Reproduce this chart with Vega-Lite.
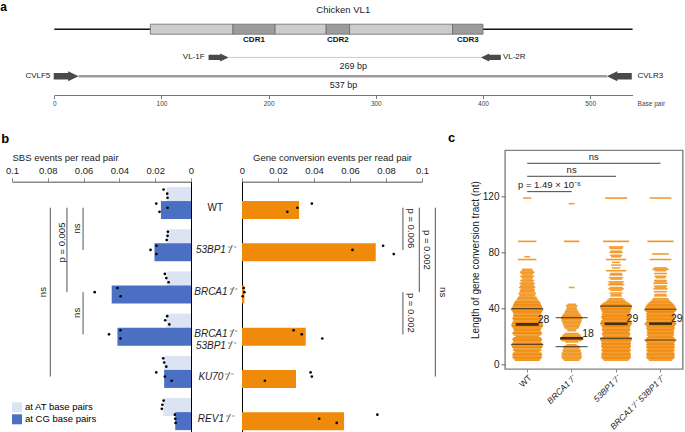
{
  "$schema": "https://vega.github.io/schema/vega-lite/v6.json",
  "padding": 0,
  "background": "white",
  "config": {
    "font": "Liberation Sans",
    "view": {"stroke": null},
    "axis": {"grid": false, "labelFont": "Liberation Sans", "titleFont": "Liberation Sans", "titleFontWeight": "normal", "labelColor": "#222", "titleColor": "#222"},
    "title": {"font": "Liberation Sans", "color": "#000"},
    "text": {"font": "Liberation Sans", "color": "#222"}
  },
  "datasets": {
    "segs": [
      {"s": 89.6, "e": 166.7, "k": "FR", "lane": "gene"},
      {"s": 166.7, "e": 206, "k": "CDR", "lane": "gene"},
      {"s": 206, "e": 253.7, "k": "FR", "lane": "gene"},
      {"s": 253.7, "e": 275.5, "k": "CDR", "lane": "gene"},
      {"s": 275.5, "e": 371.6, "k": "FR", "lane": "gene"},
      {"s": 371.6, "e": 400, "k": "CDR", "lane": "gene"}
    ],
    "cdr": [
      {"lab": "CDR1", "x": 186.3, "lane": "gene"},
      {"lab": "CDR2", "x": 264.6, "lane": "gene"},
      {"lab": "CDR3", "x": 385.8, "lane": "gene"}
    ],
    "amp": [
      {"lane": "VL", "s": 162.6, "e": 398, "lab": "269 bp", "mid": 279},
      {"lane": "CVL", "s": 22.7, "e": 515.6, "lab": "537 bp", "mid": 269.8}
    ],
    "primers": [
      {"name": "VL-1F", "lane": "VL", "s": 144, "e": 162.6, "dir": "F"},
      {"name": "VL-2R", "lane": "VL", "s": 398, "e": 413.9, "dir": "R"},
      {"name": "CVLF5", "lane": "CVL", "s": 0, "e": 22.7, "dir": "F"},
      {"name": "CVLR3", "lane": "CVL", "s": 515.6, "e": 539.5, "dir": "R"}
    ],
    "sbs": [
      {"g": "WT", "t": "AT", "v": 0.0136}, {"g": "WT", "t": "CG", "v": 0.0168},
      {"g": "53BP1", "t": "AT", "v": 0.0136}, {"g": "53BP1", "t": "CG", "v": 0.0204},
      {"g": "BRCA1", "t": "AT", "v": 0.0136}, {"g": "BRCA1", "t": "CG", "v": 0.0443},
      {"g": "DKO", "t": "AT", "v": 0.0136}, {"g": "DKO", "t": "CG", "v": 0.0411},
      {"g": "KU70", "t": "AT", "v": 0.015}, {"g": "KU70", "t": "CG", "v": 0.015},
      {"g": "REV1", "t": "AT", "v": 0.0155}, {"g": "REV1", "t": "CG", "v": 0.0088}
    ],
    "sbsdots": [
      {"g": "WT", "t": "AT", "r": 1, "v": 0.0153}, {"g": "WT", "t": "AT", "r": 2, "v": 0.0133}, {"g": "WT", "t": "AT", "r": 3, "v": 0.0131},
      {"g": "WT", "t": "CG", "r": 1, "v": 0.0194}, {"g": "WT", "t": "CG", "r": 2, "v": 0.0131}, {"g": "WT", "t": "CG", "r": 3, "v": 0.0176},
      {"g": "53BP1", "t": "AT", "r": 1, "v": 0.0129}, {"g": "53BP1", "t": "AT", "r": 2, "v": 0.0131}, {"g": "53BP1", "t": "AT", "r": 3, "v": 0.0136},
      {"g": "53BP1", "t": "CG", "r": 1, "v": 0.0193}, {"g": "53BP1", "t": "CG", "r": 2, "v": 0.0226}, {"g": "53BP1", "t": "CG", "r": 3, "v": 0.0193},
      {"g": "BRCA1", "t": "AT", "r": 1, "v": 0.0146}, {"g": "BRCA1", "t": "AT", "r": 2, "v": 0.0138}, {"g": "BRCA1", "t": "AT", "r": 3, "v": 0.0125},
      {"g": "BRCA1", "t": "CG", "r": 1, "v": 0.0411}, {"g": "BRCA1", "t": "CG", "r": 2, "v": 0.0538}, {"g": "BRCA1", "t": "CG", "r": 3, "v": 0.0393},
      {"g": "DKO", "t": "AT", "r": 1, "v": 0.0133}, {"g": "DKO", "t": "AT", "r": 2, "v": 0.0144}, {"g": "DKO", "t": "AT", "r": 3, "v": 0.0121},
      {"g": "DKO", "t": "CG", "r": 1, "v": 0.0394}, {"g": "DKO", "t": "CG", "r": 2, "v": 0.0458}, {"g": "DKO", "t": "CG", "r": 3, "v": 0.0394},
      {"g": "KU70", "t": "AT", "r": 1, "v": 0.0155}, {"g": "KU70", "t": "AT", "r": 2, "v": 0.015}, {"g": "KU70", "t": "AT", "r": 3, "v": 0.0138},
      {"g": "KU70", "t": "CG", "r": 1, "v": 0.0194}, {"g": "KU70", "t": "CG", "r": 2, "v": 0.0146}, {"g": "KU70", "t": "CG", "r": 3, "v": 0.0108},
      {"g": "REV1", "t": "AT", "r": 1, "v": 0.0153}, {"g": "REV1", "t": "AT", "r": 2, "v": 0.016}, {"g": "REV1", "t": "AT", "r": 3, "v": 0.0163},
      {"g": "REV1", "t": "CG", "r": 1, "v": 0.009}, {"g": "REV1", "t": "CG", "r": 2, "v": 0.0088}, {"g": "REV1", "t": "CG", "r": 3, "v": 0.0086}
    ],
    "sbssig": [
      {"v": 0.0786, "a": "WT|CG", "b": "KU70|CG"},
      {"v": 0.0693, "a": "WT|CG", "b": "BRCA1|CG"},
      {"v": 0.0603, "a": "WT|CG", "b": "53BP1|CG"},
      {"v": 0.0603, "a": "BRCA1|CG", "b": "DKO|CG"}
    ],
    "sbslab": [
      {"v": 0.0825, "row": "BRCA1|CG", "lab": "ns", "half": false},
      {"v": 0.0721, "row": "53BP1|AT", "lab": "p = 0.005", "half": true},
      {"v": 0.0635, "row": "WT|_", "lab": "ns", "half": true},
      {"v": 0.0635, "row": "BRCA1|_", "lab": "ns", "half": true}
    ],
    "gc": [
      {"g": "WT", "t": "CG", "v": 0.0317}, {"g": "53BP1", "t": "CG", "v": 0.0743},
      {"g": "BRCA1", "t": "CG", "v": 0.0013}, {"g": "DKO", "t": "CG", "v": 0.0354},
      {"g": "KU70", "t": "CG", "v": 0.030}, {"g": "REV1", "t": "CG", "v": 0.0567}
    ],
    "gcdots": [
      {"g": "WT", "t": "CG", "r": 1, "v": 0.0388}, {"g": "WT", "t": "CG", "r": 2, "v": 0.0308}, {"g": "WT", "t": "CG", "r": 3, "v": 0.0252},
      {"g": "53BP1", "t": "CG", "r": 1, "v": 0.0784}, {"g": "53BP1", "t": "CG", "r": 2, "v": 0.0614}, {"g": "53BP1", "t": "CG", "r": 3, "v": 0.0843},
      {"g": "BRCA1", "t": "CG", "r": 1, "v": 0.0009}, {"g": "BRCA1", "t": "CG", "r": 2, "v": 0.0013}, {"g": "BRCA1", "t": "CG", "r": 3, "v": 0.0004},
      {"g": "DKO", "t": "CG", "r": 1, "v": 0.0287}, {"g": "DKO", "t": "CG", "r": 2, "v": 0.0332}, {"g": "DKO", "t": "CG", "r": 3, "v": 0.0446},
      {"g": "KU70", "t": "CG", "r": 1, "v": 0.0381}, {"g": "KU70", "t": "CG", "r": 2, "v": 0.0388}, {"g": "KU70", "t": "CG", "r": 3, "v": 0.0127},
      {"g": "REV1", "t": "CG", "r": 1, "v": 0.0752}, {"g": "REV1", "t": "CG", "r": 2, "v": 0.0429}, {"g": "REV1", "t": "CG", "r": 3, "v": 0.0526}
    ],
    "gcsig": [
      {"v": 0.0894, "a": "WT|CG", "b": "53BP1|CG"},
      {"v": 0.0985, "a": "WT|CG", "b": "BRCA1|CG"},
      {"v": 0.0894, "a": "BRCA1|CG", "b": "DKO|CG"},
      {"v": 0.1074, "a": "WT|CG", "b": "KU70|CG"}
    ],
    "gclab": [
      {"v": 0.0939, "row": "WT|_", "lab": "p = 0.006", "half": true},
      {"v": 0.1028, "row": "53BP1|CG", "lab": "p = 0.002", "half": false},
      {"v": 0.0939, "row": "BRCA1|_", "lab": "p = 0.002", "half": true},
      {"v": 0.1117, "row": "BRCA1|CG", "lab": "ns", "half": false}
    ],
    "geno": [
      {"g": "WT", "t": "CG", "lab": "WT"},
      {"g": "53BP1", "t": "CG", "lab": "53BP1⁻/⁻"},
      {"g": "BRCA1", "t": "CG", "lab": "BRCA1⁻/⁻"},
      {"g": "DKO", "t": "CG", "lab": "BRCA1⁻/⁻\n53BP1⁻/⁻"},
      {"g": "KU70", "t": "CG", "lab": "KU70⁻/⁻"},
      {"g": "REV1", "t": "CG", "lab": "REV1⁻/⁻"}
    ],
    "crows": [
      {"g":"WT","v":119,"n":2},{"g":"WT","v":88,"n":10},{"g":"WT","v":77,"n":1},{"g":"WT","v":75,"n":10},{"g":"WT","v":68,"n":3},{"g":"WT","v":67,"n":4},{"g":"WT","v":66,"n":6},{"g":"WT","v":65,"n":5},{"g":"WT","v":64,"n":3},{"g":"WT","v":63,"n":6},{"g":"WT","v":62,"n":4},{"g":"WT","v":61,"n":3},{"g":"WT","v":60,"n":6},{"g":"WT","v":59,"n":4},{"g":"WT","v":58,"n":7},{"g":"WT","v":57,"n":5},{"g":"WT","v":56,"n":6},{"g":"WT","v":55,"n":8},{"g":"WT","v":54,"n":5},{"g":"WT","v":53,"n":7},{"g":"WT","v":52,"n":6},{"g":"WT","v":51,"n":9},{"g":"WT","v":50,"n":8},{"g":"WT","v":49,"n":7},{"g":"WT","v":48,"n":10},{"g":"WT","v":47,"n":12},{"g":"WT","v":46,"n":14},{"g":"WT","v":45,"n":18},{"g":"WT","v":44,"n":20},{"g":"WT","v":43,"n":22},{"g":"WT","v":42,"n":24},{"g":"WT","v":41,"n":26},{"g":"WT","v":40,"n":28},{"g":"WT","v":39,"n":30},{"g":"WT","v":38,"n":26},{"g":"WT","v":37,"n":24},{"g":"WT","v":36,"n":22},{"g":"WT","v":35,"n":24},{"g":"WT","v":34,"n":22},{"g":"WT","v":33,"n":26},{"g":"WT","v":32,"n":24},{"g":"WT","v":31,"n":22},{"g":"WT","v":30,"n":26},{"g":"WT","v":29,"n":28},{"g":"WT","v":28,"n":30},{"g":"WT","v":27,"n":28},{"g":"WT","v":26,"n":24},{"g":"WT","v":25,"n":22},{"g":"WT","v":24,"n":20},{"g":"WT","v":23,"n":24},{"g":"WT","v":22,"n":26},{"g":"WT","v":21,"n":22},{"g":"WT","v":20,"n":16},{"g":"WT","v":19,"n":22},{"g":"WT","v":18,"n":26},{"g":"WT","v":17,"n":24},{"g":"WT","v":16,"n":22},{"g":"WT","v":15,"n":26},{"g":"WT","v":14,"n":30},{"g":"WT","v":13,"n":28},{"g":"WT","v":12,"n":26},{"g":"WT","v":11,"n":22},{"g":"WT","v":10,"n":24},{"g":"WT","v":9,"n":18},{"g":"WT","v":8,"n":24},{"g":"WT","v":7,"n":26},{"g":"WT","v":6,"n":24},{"g":"WT","v":5,"n":26},{"g":"WT","v":4,"n":22},{"g":"WT","v":3,"n":18},
      {"g":"BRCA1","v":115,"n":1},{"g":"BRCA1","v":88,"n":7},{"g":"BRCA1","v":55,"n":1},{"g":"BRCA1","v":43,"n":2},{"g":"BRCA1","v":42,"n":4},{"g":"BRCA1","v":41,"n":3},{"g":"BRCA1","v":40,"n":3},{"g":"BRCA1","v":39,"n":4},{"g":"BRCA1","v":38,"n":5},{"g":"BRCA1","v":37,"n":6},{"g":"BRCA1","v":36,"n":8},{"g":"BRCA1","v":35,"n":10},{"g":"BRCA1","v":34,"n":12},{"g":"BRCA1","v":33,"n":14},{"g":"BRCA1","v":32,"n":12},{"g":"BRCA1","v":31,"n":12},{"g":"BRCA1","v":30,"n":10},{"g":"BRCA1","v":29,"n":9},{"g":"BRCA1","v":28,"n":8},{"g":"BRCA1","v":27,"n":7},{"g":"BRCA1","v":26,"n":6},{"g":"BRCA1","v":25,"n":3},{"g":"BRCA1","v":24,"n":2},{"g":"BRCA1","v":22,"n":6},{"g":"BRCA1","v":21,"n":9},{"g":"BRCA1","v":20,"n":11},{"g":"BRCA1","v":19,"n":14},{"g":"BRCA1","v":18,"n":16},{"g":"BRCA1","v":17,"n":12},{"g":"BRCA1","v":16,"n":5},{"g":"BRCA1","v":14,"n":3},{"g":"BRCA1","v":13,"n":6},{"g":"BRCA1","v":12,"n":9},{"g":"BRCA1","v":11,"n":7},{"g":"BRCA1","v":10,"n":10},{"g":"BRCA1","v":9,"n":9},{"g":"BRCA1","v":8,"n":12},{"g":"BRCA1","v":7,"n":11},{"g":"BRCA1","v":6,"n":12},{"g":"BRCA1","v":5,"n":12},{"g":"BRCA1","v":4,"n":10},{"g":"BRCA1","v":3,"n":7},
      {"g":"53BP1","v":119,"n":14},{"g":"53BP1","v":88,"n":20},{"g":"53BP1","v":84,"n":6},{"g":"53BP1","v":83,"n":5},{"g":"53BP1","v":81,"n":4},{"g":"53BP1","v":80,"n":5},{"g":"53BP1","v":78,"n":4},{"g":"53BP1","v":77,"n":3},{"g":"53BP1","v":75,"n":12},{"g":"53BP1","v":73,"n":2},{"g":"53BP1","v":71,"n":3},{"g":"53BP1","v":69,"n":2},{"g":"53BP1","v":67,"n":12},{"g":"53BP1","v":65,"n":4},{"g":"53BP1","v":64,"n":5},{"g":"53BP1","v":62,"n":6},{"g":"53BP1","v":61,"n":4},{"g":"53BP1","v":59,"n":7},{"g":"53BP1","v":58,"n":5},{"g":"53BP1","v":57,"n":8},{"g":"53BP1","v":55,"n":5},{"g":"53BP1","v":54,"n":7},{"g":"53BP1","v":53,"n":4},{"g":"53BP1","v":51,"n":5},{"g":"53BP1","v":50,"n":3},{"g":"53BP1","v":49,"n":4},{"g":"53BP1","v":47,"n":6},{"g":"53BP1","v":46,"n":9},{"g":"53BP1","v":45,"n":12},{"g":"53BP1","v":44,"n":18},{"g":"53BP1","v":43,"n":24},{"g":"53BP1","v":42,"n":28},{"g":"53BP1","v":41,"n":30},{"g":"53BP1","v":40,"n":28},{"g":"53BP1","v":39,"n":26},{"g":"53BP1","v":38,"n":24},{"g":"53BP1","v":37,"n":22},{"g":"53BP1","v":36,"n":24},{"g":"53BP1","v":35,"n":22},{"g":"53BP1","v":34,"n":26},{"g":"53BP1","v":33,"n":24},{"g":"53BP1","v":32,"n":22},{"g":"53BP1","v":31,"n":26},{"g":"53BP1","v":30,"n":28},{"g":"53BP1","v":29,"n":30},{"g":"53BP1","v":28,"n":26},{"g":"53BP1","v":27,"n":24},{"g":"53BP1","v":26,"n":22},{"g":"53BP1","v":25,"n":24},{"g":"53BP1","v":24,"n":22},{"g":"53BP1","v":23,"n":20},{"g":"53BP1","v":22,"n":24},{"g":"53BP1","v":21,"n":22},{"g":"53BP1","v":20,"n":20},{"g":"53BP1","v":19,"n":26},{"g":"53BP1","v":18,"n":30},{"g":"53BP1","v":17,"n":28},{"g":"53BP1","v":16,"n":24},{"g":"53BP1","v":15,"n":26},{"g":"53BP1","v":14,"n":24},{"g":"53BP1","v":13,"n":26},{"g":"53BP1","v":12,"n":24},{"g":"53BP1","v":11,"n":22},{"g":"53BP1","v":10,"n":26},{"g":"53BP1","v":9,"n":22},{"g":"53BP1","v":8,"n":24},{"g":"53BP1","v":7,"n":26},{"g":"53BP1","v":6,"n":24},{"g":"53BP1","v":5,"n":26},{"g":"53BP1","v":4,"n":22},{"g":"53BP1","v":3,"n":18},
      {"g":"DKO","v":119,"n":14},{"g":"DKO","v":88,"n":20},{"g":"DKO","v":79,"n":8},{"g":"DKO","v":75,"n":14},{"g":"DKO","v":69,"n":5},{"g":"DKO","v":68,"n":8},{"g":"DKO","v":67,"n":4},{"g":"DKO","v":65,"n":5},{"g":"DKO","v":63,"n":4},{"g":"DKO","v":62,"n":3},{"g":"DKO","v":60,"n":5},{"g":"DKO","v":59,"n":4},{"g":"DKO","v":58,"n":6},{"g":"DKO","v":56,"n":5},{"g":"DKO","v":55,"n":4},{"g":"DKO","v":54,"n":6},{"g":"DKO","v":52,"n":5},{"g":"DKO","v":50,"n":4},{"g":"DKO","v":49,"n":5},{"g":"DKO","v":47,"n":7},{"g":"DKO","v":46,"n":9},{"g":"DKO","v":45,"n":12},{"g":"DKO","v":44,"n":16},{"g":"DKO","v":43,"n":20},{"g":"DKO","v":42,"n":24},{"g":"DKO","v":41,"n":26},{"g":"DKO","v":40,"n":28},{"g":"DKO","v":39,"n":30},{"g":"DKO","v":38,"n":26},{"g":"DKO","v":37,"n":22},{"g":"DKO","v":36,"n":24},{"g":"DKO","v":35,"n":22},{"g":"DKO","v":34,"n":24},{"g":"DKO","v":33,"n":22},{"g":"DKO","v":32,"n":24},{"g":"DKO","v":31,"n":22},{"g":"DKO","v":30,"n":26},{"g":"DKO","v":29,"n":30},{"g":"DKO","v":28,"n":26},{"g":"DKO","v":27,"n":22},{"g":"DKO","v":26,"n":24},{"g":"DKO","v":25,"n":22},{"g":"DKO","v":24,"n":20},{"g":"DKO","v":23,"n":22},{"g":"DKO","v":22,"n":20},{"g":"DKO","v":21,"n":22},{"g":"DKO","v":20,"n":18},{"g":"DKO","v":19,"n":22},{"g":"DKO","v":18,"n":24},{"g":"DKO","v":17,"n":28},{"g":"DKO","v":16,"n":24},{"g":"DKO","v":15,"n":22},{"g":"DKO","v":14,"n":24},{"g":"DKO","v":13,"n":22},{"g":"DKO","v":12,"n":24},{"g":"DKO","v":11,"n":20},{"g":"DKO","v":10,"n":24},{"g":"DKO","v":9,"n":20},{"g":"DKO","v":8,"n":22},{"g":"DKO","v":7,"n":24},{"g":"DKO","v":6,"n":22},{"g":"DKO","v":5,"n":24},{"g":"DKO","v":4,"n":20},{"g":"DKO","v":3,"n":16}
    ],
    "cmed": [
      {"g": "WT", "v": 28.6, "lab": "28"},
      {"g": "BRCA1", "v": 18.6, "lab": "18"},
      {"g": "53BP1", "v": 29, "lab": "29"},
      {"g": "DKO", "v": 29.1, "lab": "29"}
    ],
    "cq": [
      {"g": "WT", "v": 14.3}, {"g": "WT", "v": 39.8},
      {"g": "BRCA1", "v": 12.6}, {"g": "BRCA1", "v": 33.4},
      {"g": "53BP1", "v": 18.6}, {"g": "53BP1", "v": 41.7},
      {"g": "DKO", "v": 17.4}, {"g": "DKO", "v": 39.4}
    ],
    "csig": [
      {"g": "WT", "g2": "DKO", "v": 143.9},
      {"g": "WT", "g2": "53BP1", "v": 134.6},
      {"g": "WT", "g2": "BRCA1", "v": 123.6}
    ],
    "csiglab": [
      {"g": "BRCA1", "v": 148.4, "lab": "ns", "half": true},
      {"g": "BRCA1", "v": 139.1, "lab": "ns", "half": false},
      {"g": "WT", "v": 128.3, "lab": "p = 1.49 × 10⁻⁶", "half": true}
    ]
  },
  "bounds": "flush",
  "spacing": 55.3,
  "resolve": {
    "scale": {"color": "independent", "size": "independent", "opacity": "independent", "strokeWidth": "independent"},
    "legend": {"color": "independent", "size": "independent", "opacity": "independent", "strokeWidth": "independent"}
  },
  "vconcat": [
    {
      "width": 640,
      "height": 94,
      "title": {"text": "a", "anchor": "start", "frame": "group", "dx": -11.7, "offset": -12.5, "fontSize": 12, "fontWeight": "bold"},
      "layer": [
        {
          "data": {"values": [{"s": 0, "e": 539.6, "lane": "gene"}]},
          "mark": {"type": "rule", "color": "#111", "strokeWidth": 1.5},
          "encoding": {
            "x": {"field": "s", "type": "quantitative", "scale": {"domain": [0, 539.6], "range": [42.3, 620.6], "nice": false, "zero": false},
                  "axis": {"orient": "bottom", "values": [0, 100, 200, 300, 400, 500], "title": null, "labelFontSize": 6.5, "labelColor": "#444", "labelPadding": 2, "tickSize": 3.5, "tickColor": "#777", "domainColor": "#777", "domainWidth": 1, "labelFlush": false}},
            "x2": {"field": "e"},
            "y": {"field": "lane", "type": "nominal", "scale": {"type": "point", "domain": ["title", "_1", "gene", "_2", "_3", "VL", "_4", "CVL", "_5", "axis"], "padding": 0.5, "align": 1}, "axis": null}
          }
        },
        {
          "data": {"name": "segs"},
          "mark": {"type": "bar", "height": 10, "stroke": "#6b6b6b", "strokeWidth": 0.8},
          "encoding": {
            "x": {"field": "s", "type": "quantitative"},
            "x2": {"field": "e"},
            "y": {"field": "lane", "type": "nominal"},
            "color": {"field": "k", "type": "nominal", "scale": {"domain": ["FR", "CDR"], "range": ["#cccccc", "#9c9c9c"]}, "legend": null}
          }
        },
        {
          "data": {"name": "cdr"},
          "mark": {"type": "text", "fontSize": 8, "fontWeight": "bold", "dy": 11, "color": "#111"},
          "encoding": {
            "x": {"field": "x", "type": "quantitative"},
            "y": {"field": "lane", "type": "nominal"},
            "text": {"field": "lab"}
          }
        },
        {
          "data": {"name": "amp"},
          "mark": {"type": "rule"},
          "encoding": {
            "x": {"field": "s", "type": "quantitative"},
            "x2": {"field": "e"},
            "y": {"field": "lane", "type": "nominal"},
            "color": {"field": "lane", "type": "nominal", "scale": {"domain": ["VL", "CVL"], "range": ["#222222", "#8c8c8c"]}, "legend": null},
            "strokeWidth": {"field": "lane", "type": "nominal", "scale": {"domain": ["VL", "CVL"], "range": [1, 2.5]}, "legend": null}
          }
        },
        {
          "data": {"name": "amp"},
          "mark": {"type": "text", "fontSize": 9, "dy": 8.5},
          "encoding": {
            "x": {"field": "mid", "type": "quantitative"},
            "y": {"field": "lane", "type": "nominal"},
            "text": {"field": "lab"}
          }
        },
        {
          "data": {"name": "primers"},
          "transform": [{"filter": "datum.dir == 'F'"}],
          "mark": {"type": "point", "filled": true, "opacity": 1, "color": "#4a4a4a", "shape": "M-2,-0.26L-0.84,-0.26L-0.84,-0.4L0,0L-0.84,0.4L-0.84,0.26L-2,0.26Z"},
          "encoding": {
            "x": {"field": "e", "type": "quantitative"},
            "y": {"field": "lane", "type": "nominal"},
            "size": {"field": "lane", "type": "nominal", "scale": {"domain": ["VL", "CVL"], "range": [400, 620]}, "legend": null}
          }
        },
        {
          "data": {"name": "primers"},
          "transform": [{"filter": "datum.dir == 'R'"}],
          "mark": {"type": "point", "filled": true, "opacity": 1, "color": "#4a4a4a", "shape": "M2,-0.26L0.84,-0.26L0.84,-0.4L0,0L0.84,0.4L0.84,0.26L2,0.26Z"},
          "encoding": {
            "x": {"field": "s", "type": "quantitative"},
            "y": {"field": "lane", "type": "nominal"},
            "size": {"field": "lane", "type": "nominal", "scale": {"domain": ["VL", "CVL"], "range": [400, 620]}, "legend": null}
          }
        },
        {
          "data": {"name": "primers"},
          "transform": [{"filter": "datum.dir == 'F'"}],
          "mark": {"type": "text", "fontSize": 8, "align": "right", "dx": -4},
          "encoding": {
            "x": {"field": "s", "type": "quantitative"},
            "y": {"field": "lane", "type": "nominal"},
            "text": {"field": "name"}
          }
        },
        {
          "data": {"name": "primers"},
          "transform": [{"filter": "datum.dir == 'R'"}],
          "mark": {"type": "text", "fontSize": 8, "align": "left", "dx": 5},
          "encoding": {
            "x": {"field": "e", "type": "quantitative"},
            "y": {"field": "lane", "type": "nominal"},
            "text": {"field": "name"}
          }
        },
        {
          "data": {"values": [{"lab": "Chicken VL1", "x": 269.6, "lane": "title"}]},
          "mark": {"type": "text", "fontSize": 9.5},
          "encoding": {
            "x": {"field": "x", "type": "quantitative"},
            "y": {"field": "lane", "type": "nominal"},
            "text": {"field": "lab"}
          }
        },
        {
          "data": {"values": [{"lab": "Base pair", "x": 539.6, "lane": "axis"}]},
          "mark": {"type": "text", "fontSize": 6.5, "align": "left", "dx": 5, "dy": 9, "color": "#444"},
          "encoding": {
            "x": {"field": "x", "type": "quantitative"},
            "y": {"field": "lane", "type": "nominal"},
            "text": {"field": "lab"}
          }
        }
      ]
    },
    {
      "bounds": "flush",
      "spacing": 51,
      "resolve": {
        "scale": {"color": "independent", "size": "independent", "opacity": "independent"},
        "legend": {"color": "independent", "size": "independent", "opacity": "independent"}
      },
      "hconcat": [
        {
          "width": 179,
          "height": 282.5,
          "title": {"text": "b", "anchor": "start", "frame": "group", "dx": -10.7, "offset": 4.3, "fontSize": 13, "fontWeight": "bold"},
          "layer": [
            {
              "data": {"name": "sbs"},
              "transform": [{"calculate": "datum.g + '|' + datum.t", "as": "row"}],
              "mark": {"type": "bar"},
              "encoding": {
                "x": {"field": "v", "type": "quantitative", "scale": {"domain": [0.1, 0], "nice": false, "zero": false},
                      "axis": {"orient": "top", "offset": -31.4, "tickCount": 5, "format": "~g", "title": "SBS events per read pair", "titleAnchor": "start", "titleFontSize": 9.5, "titlePadding": 3, "labelFontSize": 9.5, "labelPadding": 2, "labelFlush": false, "labelOverlap": false, "labelBound": false, "tickSize": 4, "tickColor": "#8a8a8a", "domainColor": "#8a8a8a", "domainWidth": 1.5}},
                "y": {"field": "row", "type": "nominal",
                      "scale": {"domain": ["WT|AT", "WT|CG", "WT|_", "53BP1|AT", "53BP1|CG", "53BP1|_", "BRCA1|AT", "BRCA1|CG", "BRCA1|_", "DKO|AT", "DKO|CG", "DKO|_", "KU70|AT", "KU70|CG", "KU70|_", "REV1|AT", "REV1|CG"], "range": [31.4, 282.5], "paddingInner": 0.055, "paddingOuter": 0.45, "align": 0.418},
                      "axis": {"orient": "right", "labels": false, "ticks": false, "title": null, "domainColor": "#000", "domainWidth": 1}},
                "color": {"field": "t", "type": "nominal", "scale": {"domain": ["AT", "CG"], "range": ["#dce4f4", "#4a6fc3"]},
                          "legend": {"title": null, "orient": "none", "legendX": 0, "legendY": 252, "symbolType": "square", "symbolSize": 100, "symbolStrokeWidth": 0, "labelFontSize": 9.5, "labelOffset": 3, "rowPadding": 2, "padding": 0, "labelExpr": "'at ' + datum.label + ' base pairs'"}}
              }
            },
            {
              "data": {"name": "sbsdots"},
              "transform": [{"calculate": "datum.g + '|' + datum.t", "as": "row"}],
              "mark": {"type": "point", "filled": true, "color": "#000", "opacity": 1, "size": 7},
              "encoding": {
                "x": {"field": "v", "type": "quantitative"},
                "y": {"field": "row", "type": "nominal"},
                "yOffset": {"field": "r", "type": "nominal", "scale": {"paddingOuter": 0.6}}
              }
            },
            {
              "data": {"name": "sbssig"},
              "mark": {"type": "rule", "color": "#555", "strokeWidth": 1},
              "encoding": {
                "x": {"field": "v", "type": "quantitative"},
                "y": {"field": "a", "type": "nominal"},
                "y2": {"field": "b"}
              }
            },
            {
              "data": {"name": "sbslab"},
              "transform": [{"filter": "!datum.half"}],
              "mark": {"type": "text", "angle": 270, "fontSize": 9.5, "align": "center", "baseline": "middle"},
              "encoding": {
                "x": {"field": "v", "type": "quantitative"},
                "y": {"field": "row", "type": "nominal"},
                "text": {"field": "lab"}
              }
            },
            {
              "data": {"name": "sbslab"},
              "transform": [{"filter": "datum.half"}],
              "mark": {"type": "text", "angle": 270, "fontSize": 9.5, "align": "center", "baseline": "middle"},
              "encoding": {
                "x": {"field": "v", "type": "quantitative"},
                "y": {"field": "row", "type": "nominal", "bandPosition": 1},
                "text": {"field": "lab"}
              }
            }
          ]
        },
        {
          "width": 211.3,
          "height": 282.5,
          "layer": [
            {
              "data": {"name": "gc"},
              "transform": [{"calculate": "datum.g + '|' + datum.t", "as": "row"}],
              "mark": {"type": "bar", "color": "#f08a0a"},
              "encoding": {
                "x": {"field": "v", "type": "quantitative", "scale": {"domain": [0, 0.1], "range": [0, 180], "nice": false, "zero": false},
                      "axis": {"orient": "top", "offset": -31.4, "values": [0, 0.02, 0.04, 0.06, 0.08, 0.1], "format": "~g", "title": "Gene conversion events per read pair", "titleFontSize": 9.5, "titlePadding": 3, "labelFontSize": 9.5, "labelPadding": 2, "labelFlush": false, "labelOverlap": false, "tickSize": 4, "tickColor": "#8a8a8a", "domainColor": "#8a8a8a", "domainWidth": 1.5}},
                "y": {"field": "row", "type": "nominal",
                      "scale": {"domain": ["WT|AT", "WT|CG", "WT|_", "53BP1|AT", "53BP1|CG", "53BP1|_", "BRCA1|AT", "BRCA1|CG", "BRCA1|_", "DKO|AT", "DKO|CG", "DKO|_", "KU70|AT", "KU70|CG", "KU70|_", "REV1|AT", "REV1|CG"], "range": [31.4, 282.5], "paddingInner": 0.055, "paddingOuter": 0.45, "align": 0.418},
                      "axis": {"orient": "left", "labels": false, "ticks": false, "title": null, "domainColor": "#000", "domainWidth": 1}}
              }
            },
            {
              "data": {"name": "gcdots"},
              "transform": [{"calculate": "datum.g + '|' + datum.t", "as": "row"}],
              "mark": {"type": "point", "filled": true, "color": "#000", "opacity": 1, "size": 7},
              "encoding": {
                "x": {"field": "v", "type": "quantitative"},
                "y": {"field": "row", "type": "nominal"},
                "yOffset": {"field": "r", "type": "nominal", "scale": {"paddingOuter": 0.6}}
              }
            },
            {
              "data": {"name": "gcsig"},
              "mark": {"type": "rule", "color": "#555", "strokeWidth": 1},
              "encoding": {
                "x": {"field": "v", "type": "quantitative"},
                "y": {"field": "a", "type": "nominal"},
                "y2": {"field": "b"}
              }
            },
            {
              "data": {"name": "gclab"},
              "transform": [{"filter": "!datum.half"}],
              "mark": {"type": "text", "angle": 90, "fontSize": 9.5, "align": "center", "baseline": "middle"},
              "encoding": {
                "x": {"field": "v", "type": "quantitative"},
                "y": {"field": "row", "type": "nominal"},
                "text": {"field": "lab"}
              }
            },
            {
              "data": {"name": "gclab"},
              "transform": [{"filter": "datum.half"}],
              "mark": {"type": "text", "angle": 90, "fontSize": 9.5, "align": "center", "baseline": "middle"},
              "encoding": {
                "x": {"field": "v", "type": "quantitative"},
                "y": {"field": "row", "type": "nominal", "bandPosition": 1},
                "text": {"field": "lab"}
              }
            },
            {
              "data": {"name": "geno"},
              "transform": [{"filter": "datum.g == 'WT'"}, {"calculate": "datum.g + '|' + datum.t", "as": "row"}],
              "mark": {"type": "text", "fontSize": 10, "align": "center", "baseline": "middle", "dx": -26.7},
              "encoding": {
                "x": {"datum": 0},
                "y": {"field": "row", "type": "nominal"},
                "text": {"field": "lab"}
              }
            },
            {
              "data": {"name": "geno"},
              "transform": [{"filter": "datum.g != 'WT'"}, {"calculate": "datum.g + '|' + datum.t", "as": "row"}],
              "mark": {"type": "text", "fontSize": 10, "fontStyle": "italic", "align": "center", "baseline": "middle", "dx": -26.7, "lineBreak": "\n", "lineHeight": 12},
              "encoding": {
                "x": {"datum": 0},
                "y": {"field": "row", "type": "nominal"},
                "text": {"field": "lab"}
              }
            }
          ]
        },
        {
          "width": 177.7,
          "height": 218.7,
          "view": {"stroke": "#808080", "strokeWidth": 1.4},
          "title": {"text": "c", "anchor": "start", "frame": "group", "dx": -57, "offset": 5, "fontSize": 13, "fontWeight": "bold"},
          "layer": [
            {
              "data": {"name": "crows"},
              "mark": {"type": "tick", "thickness": 1.6, "color": "#f08a0a"},
              "encoding": {
                "x": {"field": "g", "type": "nominal", "scale": {"domain": ["WT", "BRCA1", "53BP1", "DKO"], "paddingInner": 0, "paddingOuter": 0},
                      "axis": {"title": null, "domain": false, "labelAngle": -45, "labelFontSize": 8.5, "labelPadding": 1, "tickSize": 3, "tickColor": "#888",
                               "labelExpr": "{'WT': 'WT', 'BRCA1': 'BRCA1⁻/⁻', '53BP1': '53BP1⁻/⁻', 'DKO': 'BRCA1⁻/⁻ 53BP1⁻/⁻'}[datum.value]",
                               "labelFontStyle": {"condition": {"test": "datum.value == 'WT'", "value": "normal"}, "value": "italic"}}},
                "y": {"field": "v", "type": "quantitative", "scale": {"domain": [-3.36, 153.2], "nice": false, "zero": false},
                      "axis": {"values": [0, 20, 40, 60, 80, 100, 120], "title": "Length of gene conversion tract (nt)", "titleFontSize": 10, "labelFontSize": 10, "domain": false, "tickSize": 4, "tickColor": "#666", "labelPadding": 2, "titlePadding": 2}},
                "size": {"field": "n", "type": "quantitative", "scale": {"type": "sqrt", "domain": [0, 30], "range": [0, 32]}, "legend": null},
                "opacity": {"field": "n", "type": "quantitative", "scale": {"domain": [1, 30], "range": [0.8, 1]}, "legend": null}
              }
            },
            {
              "data": {"name": "cq"},
              "mark": {"type": "tick", "thickness": 1.2, "size": 32, "color": "#222"},
              "encoding": {
                "x": {"field": "g", "type": "nominal"},
                "y": {"field": "v", "type": "quantitative"}
              }
            },
            {
              "data": {"name": "cmed"},
              "mark": {"type": "tick", "thickness": 2.6, "size": 23, "color": "#000"},
              "encoding": {
                "x": {"field": "g", "type": "nominal"},
                "y": {"field": "v", "type": "quantitative"}
              }
            },
            {
              "data": {"name": "cmed"},
              "mark": {"type": "text", "fontSize": 10.5, "align": "left", "baseline": "middle", "dx": 10.5, "dy": -4.5},
              "encoding": {
                "x": {"field": "g", "type": "nominal"},
                "y": {"field": "v", "type": "quantitative"},
                "text": {"field": "lab"}
              }
            },
            {
              "data": {"name": "csig"},
              "mark": {"type": "rule", "color": "#444", "strokeWidth": 1},
              "encoding": {
                "x": {"field": "g", "type": "nominal"},
                "x2": {"field": "g2"},
                "y": {"field": "v", "type": "quantitative"}
              }
            },
            {
              "data": {"name": "csiglab"},
              "transform": [{"filter": "!datum.half"}],
              "mark": {"type": "text", "fontSize": 9.5, "align": "center", "baseline": "middle"},
              "encoding": {
                "x": {"field": "g", "type": "nominal"},
                "y": {"field": "v", "type": "quantitative"},
                "text": {"field": "lab"}
              }
            },
            {
              "data": {"name": "csiglab"},
              "transform": [{"filter": "datum.half"}],
              "mark": {"type": "text", "fontSize": 9.5, "align": "center", "baseline": "middle"},
              "encoding": {
                "x": {"field": "g", "type": "nominal", "bandPosition": 1},
                "y": {"field": "v", "type": "quantitative"},
                "text": {"field": "lab"}
              }
            }
          ]
        }
      ]
    }
  ]
}
